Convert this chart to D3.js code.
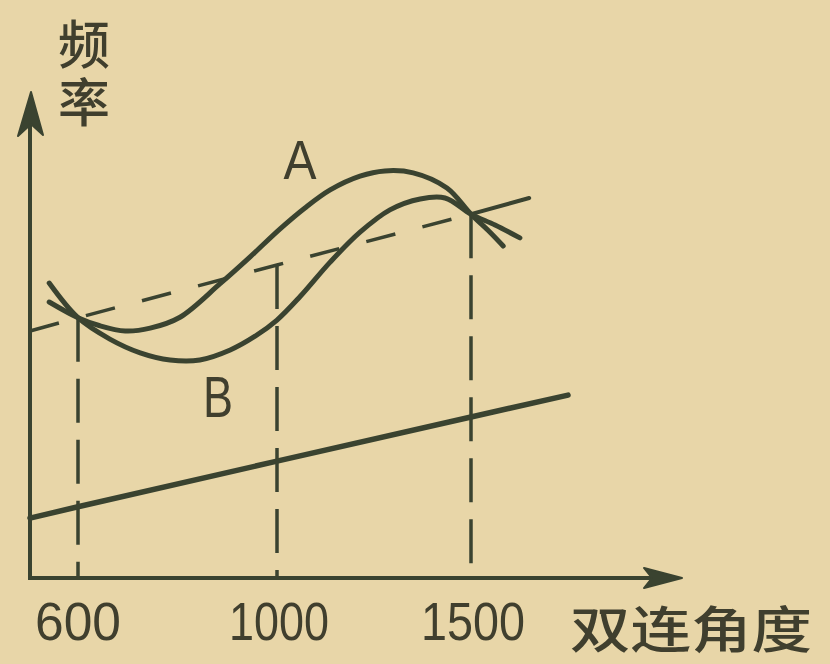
<html>
<head>
    <style>
        body { margin: 0; background: #e8d6a8; }
        svg { display: block; }
        .lbl { fill: #403f2e; font-family: "Liberation Sans", Arial, sans-serif; }
        .cjk { fill: #403f2e; font-family: "Noto Sans CJK SC", sans-serif; font-weight: 500; }
        .vert { writing-mode: vertical-rl; }
    </style>
</head>
<body>
    <script src="https://d3js.org/d3.v7.min.js"></script>
    <script>
        // x: 双连角度 (as printed), y: 频率 in arbitrary units
        var tickValues = [600, 1000, 1500];
        var tickLabels = ["600", "1000", "1500"];

        var curveA = [[540, 58.1], [600, 54.8], [644, 53.1], [695, 52.0], [745, 52.6], [805, 54.9], [885, 61.9],
            [946, 67.6], [1008, 73.5], [1072, 77.9], [1137, 81.7], [1214, 84.6], [1278, 85.7], [1351, 85.3],
            [1438, 82.1], [1500, 76.6], [1549, 72.8], [1583, 69.9]];
        var curveB = [[540, 62.1], [600, 54.8], [664, 50.3], [725, 47.4], [785, 45.9], [845, 45.9], [906, 48.0],
            [956, 50.9], [1000, 54.3], [1059, 59.2], [1137, 66.5], [1214, 72.8], [1291, 77.5], [1369, 79.8],
            [1433, 80.0], [1500, 76.6], [1562, 74.3], [1626, 71.6]];
        var dashedLine = [[500, 52.0], [600, 54.8], [1000, 65.9], [1500, 76.6]];
        var dashedTail = [[1500, 76.6], [1650, 80.0]];
        var baseLine = [[500, 12.6], [600, 15.0], [1000, 24.6], [1500, 33.9], [1750, 38.5]];
        var dropTops = [54.8, 65.9, 76.6];

        var width = 830, height = 664;
        var ink = "#3a4330";

        var svg = d3.select("body").append("svg")
            .attr("width", width)
            .attr("height", height);

        svg.append("rect").attr("width", width).attr("height", height).attr("fill", "#e8d6a8");

        // the printed axis is not evenly spaced, so a piecewise scale
        var x = d3.scaleLinear().domain([500, 600, 1000, 1500]).range([30, 78, 277, 471]);
        var y = d3.scaleLinear().domain([0, 100]).range([578, 103]);

        var line = d3.line().x(function (d) { return x(d[0]); }).y(function (d) { return y(d[1]); });
        var smooth = d3.line().x(function (d) { return x(d[0]); }).y(function (d) { return y(d[1]); })
            .curve(d3.curveCatmullRom.alpha(0.5));

        // vertical drop lines
        svg.selectAll(".drop")
            .data(tickValues)
            .enter().append("line")
            .attr("class", "drop")
            .attr("x1", function (d) { return x(d); })
            .attr("x2", function (d) { return x(d); })
            .attr("y1", function (d, i) { return y(dropTops[i]); })
            .attr("y2", y(0))
            .attr("stroke", ink)
            .attr("stroke-width", 3.5)
            .attr("stroke-dasharray", "44,17");

        // straight lines
        svg.append("path").datum(dashedLine).attr("d", line)
            .attr("fill", "none").attr("stroke", ink).attr("stroke-width", 3.5)
            .attr("stroke-dasharray", "30,28");
        svg.append("path").datum(dashedTail).attr("d", line)
            .attr("fill", "none").attr("stroke", ink).attr("stroke-width", 4).attr("stroke-linecap", "round");
        svg.append("path").datum(baseLine).attr("d", line)
            .attr("fill", "none").attr("stroke", ink).attr("stroke-width", 5.5).attr("stroke-linecap", "round");

        // the two curves
        [curveA, curveB].forEach(function (c) {
            svg.append("path").datum(c).attr("d", smooth)
                .attr("fill", "none").attr("stroke", ink).attr("stroke-width", 5)
                .attr("stroke-linecap", "round");
        });

        // axes with arrows
        var x0 = x(500), y0 = y(0);
        svg.append("line").attr("x1", x0).attr("x2", x0).attr("y1", y0 + 2).attr("y2", 112)
            .attr("stroke", ink).attr("stroke-width", 4);
        svg.append("path").attr("d", "M" + (x0 + 1) + ",92 L" + (x0 + 13) + ",135 L" + (x0 + 1) + ",124 L" + (x0 - 12) + ",136 Z")
            .attr("fill", ink).attr("stroke", ink).attr("stroke-width", 2).attr("stroke-linejoin", "round");
        svg.append("line").attr("x1", x0 - 2).attr("x2", 660).attr("y1", y0).attr("y2", y0)
            .attr("stroke", ink).attr("stroke-width", 4);
        svg.append("path").attr("d", "M682," + y0 + " L644," + (y0 - 10) + " L652," + y0 + " L644," + (y0 + 10) + " Z")
            .attr("fill", ink).attr("stroke", ink).attr("stroke-width", 2).attr("stroke-linejoin", "round");

        // tick labels
        var tw = [86, 100, 104];
        svg.selectAll(".tick")
            .data(tickValues)
            .enter().append("text")
            .attr("class", "lbl")
            .attr("x", function (d, i) { return x(d) + (i === 0 ? 0 : 2); })
            .attr("y", 640)
            .attr("text-anchor", "middle")
            .attr("font-size", 54)
            .attr("textLength", function (d, i) { return tw[i]; })
            .attr("lengthAdjust", "spacingAndGlyphs")
            .text(function (d, i) { return tickLabels[i]; });

        // curve names
        svg.append("text").attr("class", "lbl").attr("x", 300).attr("y", 179)
            .attr("text-anchor", "middle").attr("font-size", 56)
            .attr("textLength", 33).attr("lengthAdjust", "spacingAndGlyphs").text("A");
        svg.append("text").attr("class", "lbl").attr("x", 218).attr("y", 417)
            .attr("text-anchor", "middle").attr("font-size", 58)
            .attr("textLength", 30).attr("lengthAdjust", "spacingAndGlyphs").text("B");

        // axis titles
        svg.append("text").attr("class", "cjk").attr("x", 570).attr("y", 648)
            .attr("font-size", 50).attr("textLength", 242).attr("lengthAdjust", "spacingAndGlyphs")
            .text("双连角度");
        // y title written top to bottom as one text
        svg.append("text").attr("class", "cjk vert").attr("x", 84).attr("y", 18)
            .attr("font-size", 52).attr("letter-spacing", 6).text("频率");
    </script>
</body>
</html>
